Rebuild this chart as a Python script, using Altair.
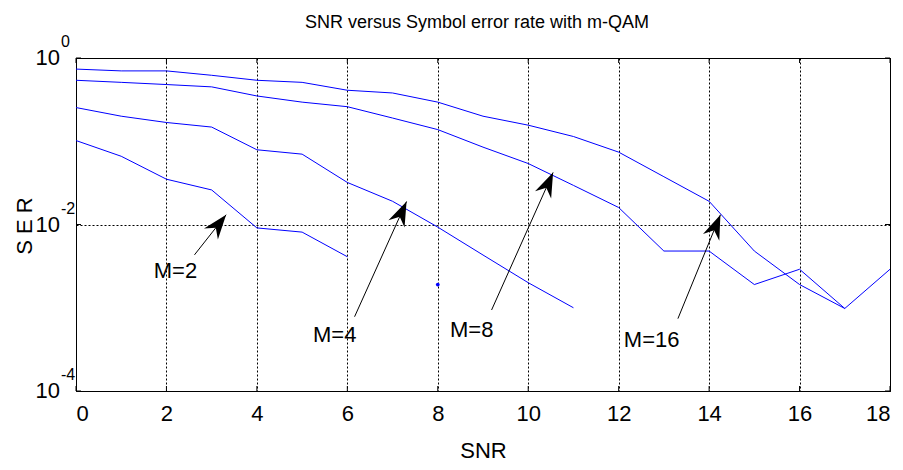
import math
import altair as alt
import pandas as pd

# ---------------- data ----------------
snr = list(range(19))
ser_m2 = [0.102, 0.066, 0.035, 0.026, 0.0091, 0.0081, 0.0041]
ser_m4 = [0.254, 0.20, 0.168, 0.148, 0.079, 0.070, 0.032, 0.019, 0.0093, 0.0043, 0.0020, 0.0010]
ser_m8 = [0.54, 0.51, 0.48, 0.45, 0.35, 0.295, 0.26, 0.19, 0.138, 0.085, 0.054, 0.0295,
          0.016, 0.0048, 0.0048, 0.0019, 0.0029, 0.00098, 0.0029]
ser_m16 = [0.736, 0.70, 0.70, 0.62, 0.54, 0.51, 0.41, 0.38, 0.295, 0.20, 0.156, 0.114,
           0.074, 0.0375, 0.019, 0.0048, 0.0019, 0.00098]

dot_x = [8]
dot_y = [0.0019]

ann_labels = ["M=2", "M=4", "M=8", "M=16"]
ann_label_x = [2.2, 5.72, 8.75, 12.73]
ann_label_y = [0.00278, 0.00047, 0.00054, 0.00041]
ann_tail_x = [2.62, 6.16, 9.19, 13.31]
ann_tail_y = [0.00432, 0.00078, 0.00094, 0.00074]
ann_tip_x = [3.32, 7.31, 10.55, 14.25]
ann_tip_y = [0.0131, 0.0189, 0.0422, 0.0131]

x_ticks = [0, 2, 4, 6, 8, 10, 12, 14, 16, 18]
y_ticks = [1, 0.01, 0.0001]
y_tick_base = ["10", "10", "10"]
y_tick_exp = ["0", "-2", "-4"]

title_text = "SNR versus Symbol error rate with m-QAM"
x_title = "SNR"
y_title = "S E R"

# ---------------- layout / style ----------------
W, H = 814, 333
FONT = "Liberation Sans, Arial, Helvetica"
FS = 22
BLUE = "#0000ff"
X_DOM = [0, 18]
Y_DOM = [0.0001, 1]

rows = []
for name, vals in [("M=2", ser_m2), ("M=4", ser_m4), ("M=8", ser_m8), ("M=16", ser_m16)]:
    for s, v in zip(snr, vals):
        rows.append({"snr": s, "ser": v, "curve": name})
df_lines = pd.DataFrame(rows)

# arrow head angles (computed in screen space from the scales)
px_per_x = W / (X_DOM[1] - X_DOM[0])
px_per_dec = H / (math.log10(Y_DOM[1]) - math.log10(Y_DOM[0]))
angles = []
for tx, ty, hx, hy in zip(ann_tail_x, ann_tail_y, ann_tip_x, ann_tip_y):
    dx = (hx - tx) * px_per_x
    dy = (math.log10(hy) - math.log10(ty)) * px_per_dec
    angles.append(math.degrees(math.atan2(dx, dy)) % 360)

df_ann = pd.DataFrame({
    "label": ann_labels, "lx": ann_label_x, "ly": ann_label_y,
    "tx": ann_tail_x, "ty": ann_tail_y, "hx": ann_tip_x, "hy": ann_tip_y,
    "angle": angles,
})

xs = alt.Scale(domain=X_DOM, nice=False, zero=False)
ys = alt.Scale(type="log", domain=Y_DOM, nice=False)

x_axis = alt.Axis(values=x_ticks, grid=True, gridDash=[2, 2], gridColor="#000000",
                  gridOpacity=1, gridWidth=1, domain=False, ticks=False,
                  labelFont=FONT, labelFontSize=FS, labelPadding=12, labelColor="#000",
                  title=x_title, titleFont=FONT, titleFontSize=FS, titleFontWeight="normal",
                  titleColor="#000", titleBaseline="middle", titleY=59)
y_axis = alt.Axis(values=y_ticks, grid=True, gridDash=[2, 2], gridColor="#000000",
                  gridOpacity=1, gridWidth=1, domain=False, ticks=False, labels=False,
                  title=y_title, titleFont=FONT, titleFontSize=FS, titleFontWeight="normal",
                  titleColor="#000", titleAngle=270, titleBaseline="middle",
                  titleAlign="center", titleX=-52, titleY=H / 2 + 1)

lines = alt.Chart(df_lines).mark_line(color=BLUE, strokeWidth=1, clip=True).encode(
    x=alt.X("snr:Q", scale=xs, axis=x_axis),
    y=alt.Y("ser:Q", scale=ys, axis=y_axis),
    detail="curve:N",
)

dot = alt.Chart(pd.DataFrame({"x": dot_x, "y": dot_y})).mark_circle(
    color=BLUE, size=14, opacity=1).encode(
    x=alt.X("x:Q", scale=xs), y=alt.Y("y:Q", scale=ys))

arrow_lines = alt.Chart(df_ann).mark_rule(color="black", strokeWidth=1).encode(
    x=alt.X("tx:Q", scale=xs), y=alt.Y("ty:Q", scale=ys), x2="hx:Q", y2="hy:Q")

heads = alt.Chart(df_ann).mark_point(
    shape="M0,0 L0.36,1 L0,0.68 L-0.36,1 Z", filled=True, color="black",
    opacity=1, size=2400, strokeWidth=0).encode(
    x=alt.X("hx:Q", scale=xs), y=alt.Y("hy:Q", scale=ys), angle=alt.Angle("angle:Q", scale=None))

ann_text = alt.Chart(df_ann).mark_text(font=FONT, fontSize=FS, color="black",
                                       align="center", baseline="middle").encode(
    x=alt.X("lx:Q", scale=xs), y=alt.Y("ly:Q", scale=ys), text="label:N")

df_yt = pd.DataFrame({"v": y_ticks, "base": y_tick_base, "exp": y_tick_exp})
ylab_base = alt.Chart(df_yt).mark_text(font=FONT, fontSize=FS, color="black",
                                       align="right", baseline="middle").encode(
    x=alt.value(-16), y=alt.Y("v:Q", scale=ys), text="base:N")
ylab_exp = alt.Chart(df_yt).mark_text(font=FONT, fontSize=16, color="black",
                                      align="left", baseline="middle", dy=-16).encode(
    x=alt.value(-15), y=alt.Y("v:Q", scale=ys), text="exp:N")

title_mark = alt.Chart(pd.DataFrame({"t": [title_text]})).mark_text(
    font=FONT, fontSize=18, color="black", align="center", baseline="middle").encode(
    x=alt.value(W / 2 - 6), y=alt.value(-35), text="t:N")

df_xt = pd.DataFrame({"t": x_ticks})
xt_bottom = alt.Chart(df_xt).mark_rule(color="black", strokeWidth=1).encode(
    x=alt.X("t:Q", scale=xs), y=alt.value(H), y2=alt.value(H - 5))
xt_top = alt.Chart(df_xt).mark_rule(color="black", strokeWidth=1).encode(
    x=alt.X("t:Q", scale=xs), y=alt.value(0), y2=alt.value(5))
df_ytk = pd.DataFrame({"t": y_ticks})
yt_left = alt.Chart(df_ytk).mark_rule(color="black", strokeWidth=1).encode(
    y=alt.Y("t:Q", scale=ys), x=alt.value(0), x2=alt.value(5))
yt_right = alt.Chart(df_ytk).mark_rule(color="black", strokeWidth=1).encode(
    y=alt.Y("t:Q", scale=ys), x=alt.value(W), x2=alt.value(W - 5))

chart = alt.layer(
    lines, dot, arrow_lines, heads, ann_text, ylab_base, ylab_exp, title_mark,
    xt_bottom, xt_top, yt_left, yt_right,
).properties(
    width=W, height=H,
    autosize=alt.AutoSizeParams(type="none"),
    padding={"left": 68, "top": 50, "right": 5, "bottom": 72},
    background="white",
).configure_view(stroke="black", strokeWidth=1)

chart.save("out.html", embed_options={"renderer": "svg", "actions": False})
